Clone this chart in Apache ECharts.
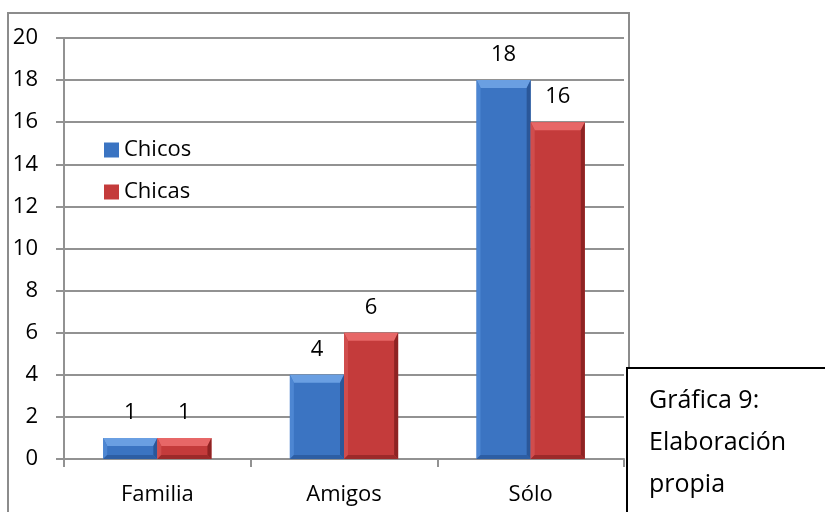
<!DOCTYPE html>
<html>
<head>
<meta charset="utf-8">
<script src="https://cdn.jsdelivr.net/npm/echarts@6/dist/echarts.min.js"></script>
<style>
  html, body { margin: 0; padding: 0; background: #fff; }
  #chart { width: 825px; height: 512px; }
</style>
</head>
<body>
<div id="chart"></div>
<script>
// Categories and values
const categories = ['Familia', 'Amigos', 'Sólo'];
const chicos = [1, 4, 18];
const chicas = [1, 6, 16];
const seriesNames = ['Chicos', 'Chicas'];
const yTicks = { min: 0, max: 20, step: 2 };
const captionLines = ['Gráfica 9:', 'Elaboración', 'propia'];

const FONT = '"Open Sans", sans-serif';

// Bevelled bar colours: body, top face, left edge, right edge, bottom edge
const palettes = [
  { body: '#3b74c2', top: '#6a9fe2', left: '#4d86d2', right: '#2a5799', bottom: '#2d5ea4' },
  { body: '#c43b3b', top: '#e76767', left: '#d04d4d', right: '#8e2323', bottom: '#9c2a2a' }
];

const BAR_FRACTION = 0.29; // each bar's width relative to the category band

function bevelBar(side, pal) {
  return function (params, api) {
    const cat = api.value(0);
    const val = api.value(1);
    const base = api.coord([cat, 0]);
    const top = api.coord([cat, val]);
    const bandW = api.size([1, 0])[0];
    const w = bandW * BAR_FRACTION;
    const x = side === 0 ? base[0] - w : base[0];
    const y = top[1];
    const h = base[1] - top[1];
    const bt = Math.min(8, h / 2.5);
    const bs = 4;
    const bb = Math.min(4, h / 5);
    return {
      type: 'group',
      children: [
        { type: 'rect', shape: { x: x, y: y, width: w, height: h }, style: { fill: pal.body } },
        { type: 'polygon', shape: { points: [[x, y], [x + w, y], [x + w - bs, y + bt], [x + bs, y + bt]] }, style: { fill: pal.top } },
        { type: 'polygon', shape: { points: [[x, y], [x + bs, y + bt], [x + bs, y + h - bb], [x, y + h]] }, style: { fill: pal.left } },
        { type: 'polygon', shape: { points: [[x + w, y], [x + w, y + h], [x + w - bs, y + h - bb], [x + w - bs, y + bt]] }, style: { fill: pal.right } },
        { type: 'polygon', shape: { points: [[x, y + h], [x + bs, y + h - bb], [x + w - bs, y + h - bb], [x + w, y + h]] }, style: { fill: pal.bottom } },
        { type: 'text', style: { text: String(val), x: x + w / 2, y: y - 25, align: 'center', verticalAlign: 'middle', font: '22px ' + FONT, fill: '#000' } }
      ]
    };
  };
}

const chart = echarts.init(document.getElementById('chart'), null, { renderer: 'canvas' });

chart.setOption({
  animation: false,
  backgroundColor: '#fff',
  grid: { left: 64, right: 201, top: 38, bottom: 53, containLabel: false },
  legend: {
    data: seriesNames,
    orient: 'vertical',
    left: 99,
    top: 134,
    itemWidth: 15,
    itemHeight: 15,
    itemGap: 20,
    icon: 'rect',
    textStyle: { fontFamily: FONT, fontSize: 22, color: '#000' }
  },
  xAxis: {
    type: 'category',
    data: categories,
    axisLine: { show: true, lineStyle: { color: '#929292', width: 2 } },
    axisTick: { show: true, length: 8, lineStyle: { color: '#929292', width: 2 } },
    axisLabel: { margin: 25, fontFamily: FONT, fontSize: 22, color: '#000' }
  },
  yAxis: {
    type: 'value',
    min: yTicks.min,
    max: yTicks.max,
    interval: yTicks.step,
    axisLine: { show: true, lineStyle: { color: '#929292', width: 2 } },
    axisTick: { show: true, length: 8, lineStyle: { color: '#929292', width: 2 } },
    axisLabel: { margin: 26, fontFamily: FONT, fontSize: 22, color: '#000' },
    splitLine: { show: true, lineStyle: { color: '#929292', width: 2 } }
  },
  series: [
    {
      name: seriesNames[0],
      type: 'custom',
      itemStyle: { color: palettes[0].body },
      data: categories.map((c, i) => [i, chicos[i]]),
      encode: { x: 0, y: 1 },
      renderItem: bevelBar(0, palettes[0])
    },
    {
      name: seriesNames[1],
      type: 'custom',
      itemStyle: { color: palettes[1].body },
      data: categories.map((c, i) => [i, chicas[i]]),
      encode: { x: 0, y: 1 },
      renderItem: bevelBar(1, palettes[1])
    }
  ],
  graphic: [
    {
      type: 'rect',
      z: 50,
      shape: { x: 8, y: 13, width: 621, height: 530 },
      style: { fill: null, stroke: '#8c8c8c', lineWidth: 2 },
      silent: true
    },
    {
      type: 'rect',
      z: 100,
      shape: { x: 627, y: 368, width: 220, height: 170 },
      style: { fill: '#fff', stroke: '#000', lineWidth: 2 },
      silent: true
    },
    {
      type: 'text',
      z: 101,
      x: 649,
      y: 380,
      style: {
        text: captionLines.join('\n'),
        font: '25px ' + FONT,
        lineHeight: 42,
        fill: '#000'
      },
      silent: true
    }
  ]
});
</script>
</body>
</html>
